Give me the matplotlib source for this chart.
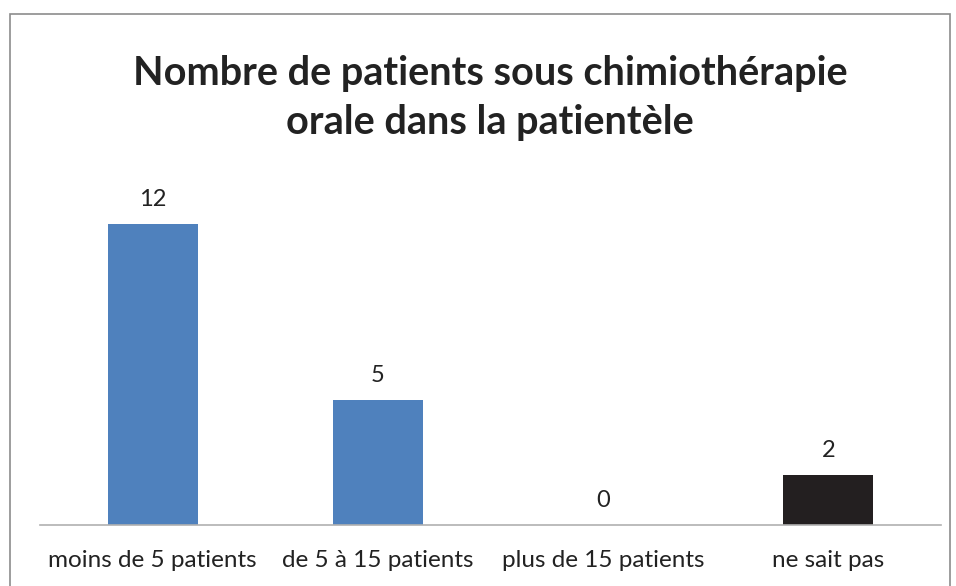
import matplotlib.pyplot as plt
from matplotlib.patches import Rectangle

categories = ["moins de 5 patients", "de 5 à 15 patients", "plus de 15 patients", "ne sait pas"]
values = [12, 5, 0, 2]
colors = ["#4f81bd", "#4f81bd", "#4f81bd", "#231f20"]

plt.rcParams['font.family'] = ['Lato', 'DejaVu Sans']

fig = plt.figure(figsize=(9.56, 5.86), dpi=100)
ax = fig.add_axes([40 / 956, 1 - 525 / 586, 901 / 956, 351 / 586])

x = range(len(categories))
bars = ax.bar(x, values, width=0.4, color=colors)
for xi, v in zip(x, values):
    ax.text(xi, v + 0.55, str(v), ha="center", va="bottom", fontsize=17, color="#222222")

ax.set_xlim(-0.5, 3.5)
ax.set_ylim(0, 14)
ax.set_yticks([])
ax.set_xticks(list(x))
ax.set_xticklabels(categories, fontsize=17.5, color="#222222")
ax.tick_params(axis="x", length=0, pad=18)
for s in ["top", "right", "left"]:
    ax.spines[s].set_visible(False)
ax.spines["bottom"].set_color("#b0b0b0")
ax.spines["bottom"].set_linewidth(1.2)

fig.text(490 / 956, 1 - 98 / 586, "Nombre de patients sous chimiothérapie\norale dans la patientèle",
         ha="center", va="center", fontsize=28.5, fontweight="bold", color="#222222", linespacing=1.38)

# cadre du graphique (coupé en bas)
fig.patches.append(Rectangle((10 / 956, -0.05), 940 / 956, 1.05 - 14 / 586, transform=fig.transFigure,
                             fill=False, edgecolor="#8c8c8c", linewidth=1.2))

fig.savefig("out.png", dpi=100)
